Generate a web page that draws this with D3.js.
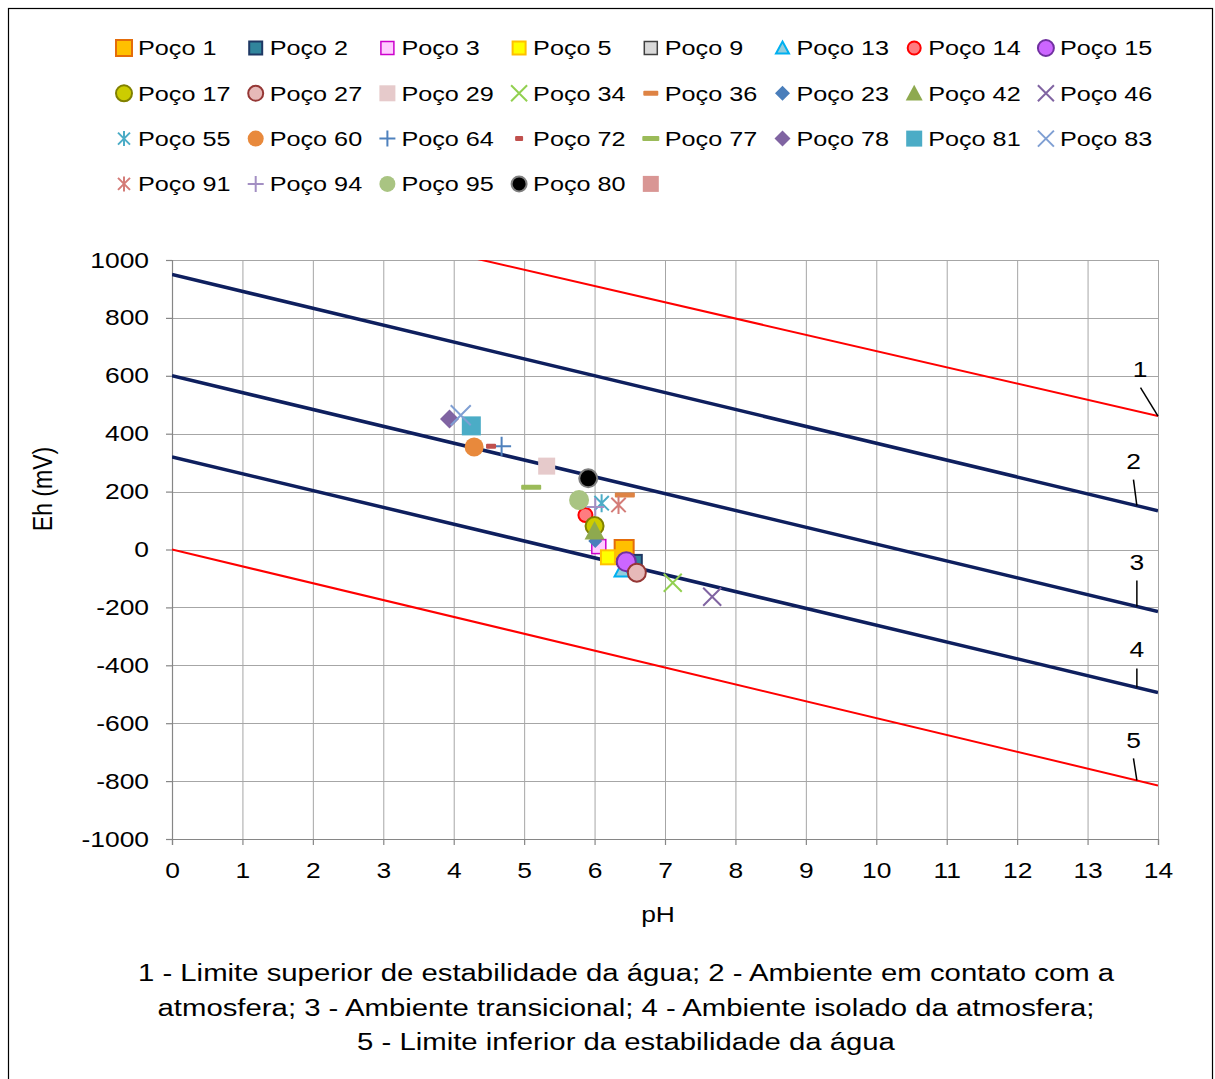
<!DOCTYPE html>
<html>
<head>
<meta charset="utf-8">
<script src="https://cdn.jsdelivr.net/npm/d3@7"></script>
<style>
  body { margin: 0; background: #fff; }
  text { font-family: "Liberation Sans", Arial, sans-serif; fill: #000; }
</style>
</head>
<body>
<svg id="chart" width="1215" height="1079"></svg>
<script>
// ---- Data ---------------------------------------------------------------
// Wells (poços), in series order
const wellNames = ["Poço 1","Poço 2","Poço 3","Poço 5","Poço 9","Poço 13","Poço 14","Poço 15",
  "Poço 17","Poço 27","Poço 29","Poço 34","Poço 36","Poço 23","Poço 42","Poço 46",
  "Poço 55","Poço 60","Poço 64","Poço 72","Poço 77","Poço 78","Poço 81","Poço 83",
  "Poço 91","Poço 94","Poço 95","Poço 80",""];
const wellPH = [6.42,6.55,6.06,6.19,null,6.39,5.87,6.45,
  6.00,6.60,5.32,7.11,6.43,6.01,6.00,7.67,
  6.10,4.29,4.68,4.53,5.10,3.94,4.25,4.10,
  6.34,6.01,5.78,5.91,null];
const wellEh = [0,-48,10,-27,null,-71,119,-42,
  81,-80,288,-115,188,29,64,-163,
  160,354,357,357,215,451,427,464,
  154,147,171,246,null];

// Reference lines: Eh (mV) at pH 0 and at pH 14
const refLineIds = ["1","2","3","4","5"];
const refLineEhAt0 = [1247,950,600,320,0];
const refLineEhAt14 = [461,134,-214,-494,-815];
const refLabelPH = [14,13.7,13.7,13.7,13.7];

const xTicks = [0,1,2,3,4,5,6,7,8,9,10,11,12,13,14];
const yTicks = [-1000,-800,-600,-400,-200,0,200,400,600,800,1000];

const captionLines = [
  "1 - Limite superior de estabilidade da água; 2 - Ambiente em contato com a",
  "atmosfera; 3 - Ambiente transicional; 4 - Ambiente isolado da atmosfera;",
  "5 - Limite inferior da estabilidade da água"
];

// ---- Marker styles (per series): plot size and legend size ---------------
const wellStyles = [
  {shape:"square", size:19, lsize:16, fill:"#FFC000", stroke:"#E46C0A", sw:2},
  {shape:"square", size:17, lsize:13, fill:"#31859C", stroke:"#1F3864", sw:2},
  {shape:"square", size:14, lsize:13, fill:"#FFCCFF", stroke:"#CC00CC", sw:1.5},
  {shape:"square", size:14, lsize:13, fill:"#FFFF00", stroke:"#FFC000", sw:2},
  {shape:"square", size:12, lsize:13, fill:"#D9D9D9", stroke:"#404040", sw:1.5},
  {shape:"triangle", size:15, lsize:13, fill:"#93CDDD", stroke:"#00B0F0", sw:2},
  {shape:"circle", size:14, lsize:13, fill:"#FF7C80", stroke:"#FF0000", sw:2},
  {shape:"circle", size:19, lsize:16, fill:"#CC66FF", stroke:"#7030A0", sw:2},
  {shape:"circle", size:18, lsize:16, fill:"#CCCC00", stroke:"#808000", sw:2},
  {shape:"circle", size:18, lsize:15, fill:"#E6B9B8", stroke:"#953735", sw:2},
  {shape:"square", size:17, lsize:16, fill:"#E6CACB", stroke:"none", sw:0},
  {shape:"x", size:18, lsize:16, fill:"none", stroke:"#92D050", sw:2},
  {shape:"dash", size:20, lsize:15, fill:"#DE8344", stroke:"none", sw:0},
  {shape:"diamond", size:14, lsize:15, fill:"#4A7EBB", stroke:"none", sw:0},
  {shape:"triangle", size:20, lsize:17, fill:"#8EA94F", stroke:"none", sw:0},
  {shape:"x", size:18, lsize:16, fill:"none", stroke:"#8064A2", sw:2},
  {shape:"asterisk", size:18, lsize:15, fill:"none", stroke:"#4BACC6", sw:2},
  {shape:"circle", size:19, lsize:16, fill:"#E8893C", stroke:"none", sw:0},
  {shape:"plus", size:19, lsize:16, fill:"none", stroke:"#4F81BD", sw:2},
  {shape:"dash", size:10, lsize:8, fill:"#C0504D", stroke:"none", sw:0},
  {shape:"dash", size:20, lsize:17, fill:"#9BBB59", stroke:"none", sw:0},
  {shape:"diamond", size:19, lsize:16, fill:"#8064A2", stroke:"none", sw:0},
  {shape:"square", size:19, lsize:16, fill:"#4BACC6", stroke:"none", sw:0},
  {shape:"x", size:20, lsize:16, fill:"none", stroke:"#7F9FD3", sw:2},
  {shape:"asterisk", size:18, lsize:15, fill:"none", stroke:"#D47C78", sw:2},
  {shape:"plus", size:18, lsize:16, fill:"none", stroke:"#A38FC3", sw:2},
  {shape:"circle", size:20, lsize:16, fill:"#A9C482", stroke:"none", sw:0},
  {shape:"circle", size:18, lsize:15, fill:"#000000", stroke:"#7F7F7F", sw:2},
  {shape:"square", size:16, lsize:16, fill:"#D99694", stroke:"none", sw:0}
];
const refLineColors = ["#FF0000","#0E1F5E","#0E1F5E","#0E1F5E","#FF0000"];
const refLineWidths = [2,3.5,3.5,3.5,2];

// ---- Layout -------------------------------------------------------------
const SX = 1.2;               // horizontal text stretch
const FONT = "Liberation Sans, Arial, sans-serif";
const svg = d3.select("#chart");

svg.append("rect").attr("x",8.5).attr("y",8.5).attr("width",1204).attr("height",1090)
  .attr("fill","#fff").attr("stroke","#000").attr("stroke-width",1.2);

const x = d3.scaleLinear().domain([0,14]).range([172,1158]);
const y = d3.scaleLinear().domain([-1000,1000]).range([839,260]);

function sText(parent, px, py, str, size, anchor, sx) {
  return parent.append("text")
    .attr("transform", `translate(${px},${py}) scale(${sx || SX},1)`)
    .attr("text-anchor", anchor || "start")
    .attr("dy", "0.35em")
    .style("font-size", size + "px")
    .text(str);
}

function drawMarker(g, s, sizePx) {
  const r = sizePx / 2;
  const sw = s.sw;
  switch (s.shape) {
    case "square":
      g.append("rect").attr("x",-r).attr("y",-r).attr("width",2*r).attr("height",2*r)
        .attr("fill",s.fill).attr("stroke",s.stroke).attr("stroke-width",sw);
      break;
    case "circle":
      g.append("circle").attr("r",r).attr("fill",s.fill).attr("stroke",s.stroke).attr("stroke-width",sw);
      break;
    case "diamond":
      g.append("path").attr("d",`M0,${-r}L${r},0L0,${r}L${-r},0Z`).attr("fill",s.fill);
      break;
    case "triangle":
      g.append("path").attr("d",`M0,${-r}L${r},${r*0.85}L${-r},${r*0.85}Z`)
        .attr("fill",s.fill).attr("stroke",s.stroke).attr("stroke-width",sw);
      break;
    case "x":
      g.append("path").attr("d",`M${-r},${-r}L${r},${r}M${r},${-r}L${-r},${r}`)
        .attr("stroke",s.stroke).attr("stroke-width",sw).attr("fill","none");
      break;
    case "plus":
      g.append("path").attr("d",`M${-r},0L${r},0M0,${-r}L0,${r}`)
        .attr("stroke",s.stroke).attr("stroke-width",sw).attr("fill","none");
      break;
    case "asterisk":
      g.append("path").attr("d",`M${-r*0.8},${-r*0.8}L${r*0.8},${r*0.8}M${r*0.8},${-r*0.8}L${-r*0.8},${r*0.8}M0,${-r}L0,${r}`)
        .attr("stroke",s.stroke).attr("stroke-width",sw).attr("fill","none");
      break;
    case "dash":
      g.append("rect").attr("x",-r).attr("y",-2.5).attr("width",2*r).attr("height",5)
        .attr("rx",1).attr("fill",s.fill);
      break;
  }
}

// ---- Grid ---------------------------------------------------------------
const grid = svg.append("g").attr("stroke","#A6A6A6").attr("stroke-width",1);
grid.selectAll("line.v").data(xTicks.slice(1)).join("line")
  .attr("x1",d=>x(d)+0.5).attr("x2",d=>x(d)+0.5).attr("y1",y(1000)).attr("y2",y(-1000));
grid.selectAll("line.h").data(yTicks.slice(1)).join("line")
  .attr("x1",x(0)).attr("x2",x(14)).attr("y1",d=>Math.round(y(d))+0.5).attr("y2",d=>Math.round(y(d))+0.5);

// ---- Axes ---------------------------------------------------------------
const plainNum = d => String(d);
const xAxis = svg.append("g").attr("transform",`translate(0,${y(-1000)})`)
  .call(d3.axisBottom(x).tickValues(xTicks).tickSize(6).tickPadding(17).tickFormat(plainNum));
const yAxis = svg.append("g").attr("transform",`translate(${x(0)},0)`)
  .call(d3.axisLeft(y).tickValues(yTicks).tickSize(6).tickPadding(17).tickFormat(plainNum));
[xAxis, yAxis].forEach(a => {
  a.select(".domain").attr("stroke","#868686").attr("stroke-width",1.2);
  a.selectAll(".tick line").attr("stroke","#868686").attr("stroke-width",1.2);
  a.selectAll(".tick text").style("font-family",FONT).style("font-size","22px").attr("fill","#000");
});
yAxis.selectAll(".tick text").each(function() {
  const t = d3.select(this);
  const xv = +t.attr("x");
  t.attr("x", xv / SX).attr("transform", `scale(${SX},1)`);
});
xAxis.selectAll(".tick text").attr("transform", `scale(${SX},1)`);

// ---- Reference lines ----------------------------------------------------
svg.append("clipPath").attr("id","plotClip").append("rect")
  .attr("x",x(0)).attr("y",y(1000)).attr("width",x(14)-x(0)).attr("height",y(-1000)-y(1000));
const lineGen = d3.line().x(d=>x(d[0])).y(d=>y(d[1]));
const refG = svg.append("g").attr("clip-path","url(#plotClip)");
refLineIds.forEach((id,i) => {
  refG.append("path").datum([[0,refLineEhAt0[i]],[14,refLineEhAt14[i]]])
    .attr("d",lineGen).attr("fill","none")
    .attr("stroke",refLineColors[i]).attr("stroke-width",refLineWidths[i]);
});

// line number labels with leader lines
const labelOffsets = [
  {tx:-18, ty:-47, lx:-17.5, ly:-28.5},
  {tx:-3.4, ty:-44, lx:-3.4, ly:-26},
  {tx:0, ty:-44, lx:0, ly:-26},
  {tx:0, ty:-38, lx:0, ly:-19},
  {tx:-3.4, ty:-40, lx:-3.4, ly:-22}
];
refLineIds.forEach((id,i) => {
  const ph = refLabelPH[i];
  const eh = refLineEhAt0[i] + (refLineEhAt14[i]-refLineEhAt0[i]) * ph / 14;
  const px = x(ph), py = y(eh), o = labelOffsets[i];
  svg.append("line").attr("x1",px+o.lx).attr("y1",py+o.ly).attr("x2",px).attr("y2",py)
    .attr("stroke","#000").attr("stroke-width",1.5);
  sText(svg, px+o.tx, py+o.ty, id, 22, "middle");
});

// ---- Well points --------------------------------------------------------
const pts = svg.append("g");
wellNames.forEach((name,i) => {
  if (wellPH[i] == null || wellEh[i] == null) return;
  const g = pts.append("g").attr("transform",`translate(${x(wellPH[i])},${y(wellEh[i])})`);
  drawMarker(g, wellStyles[i], wellStyles[i].size);
});

// ---- Legend -------------------------------------------------------------
const legend = svg.append("g");
wellNames.forEach((name,i) => {
  const col = i % 8, row = Math.floor(i / 8);
  const cx = 124 + col * 131.7, cy = 48 + row * 45.3;
  const g = legend.append("g").attr("transform",`translate(${cx},${cy})`);
  drawMarker(g, wellStyles[i], wellStyles[i].lsize);
  if (name) sText(legend, cx + 14, cy, name, 21, "start");
});

// ---- Titles & caption ---------------------------------------------------
sText(svg, 658, 914, "pH", 22, "middle");
svg.append("text")
  .attr("transform", `translate(42,489) scale(${SX},1) rotate(-90)`)
  .attr("text-anchor","middle").attr("dy","0.35em")
  .style("font-size","23px").text("Eh (mV)");
captionLines.forEach((ln,i) => {
  sText(svg, 626, 973 + i*34.5, ln, 23, "middle", 1.275);
});
</script>
</body>
</html>
